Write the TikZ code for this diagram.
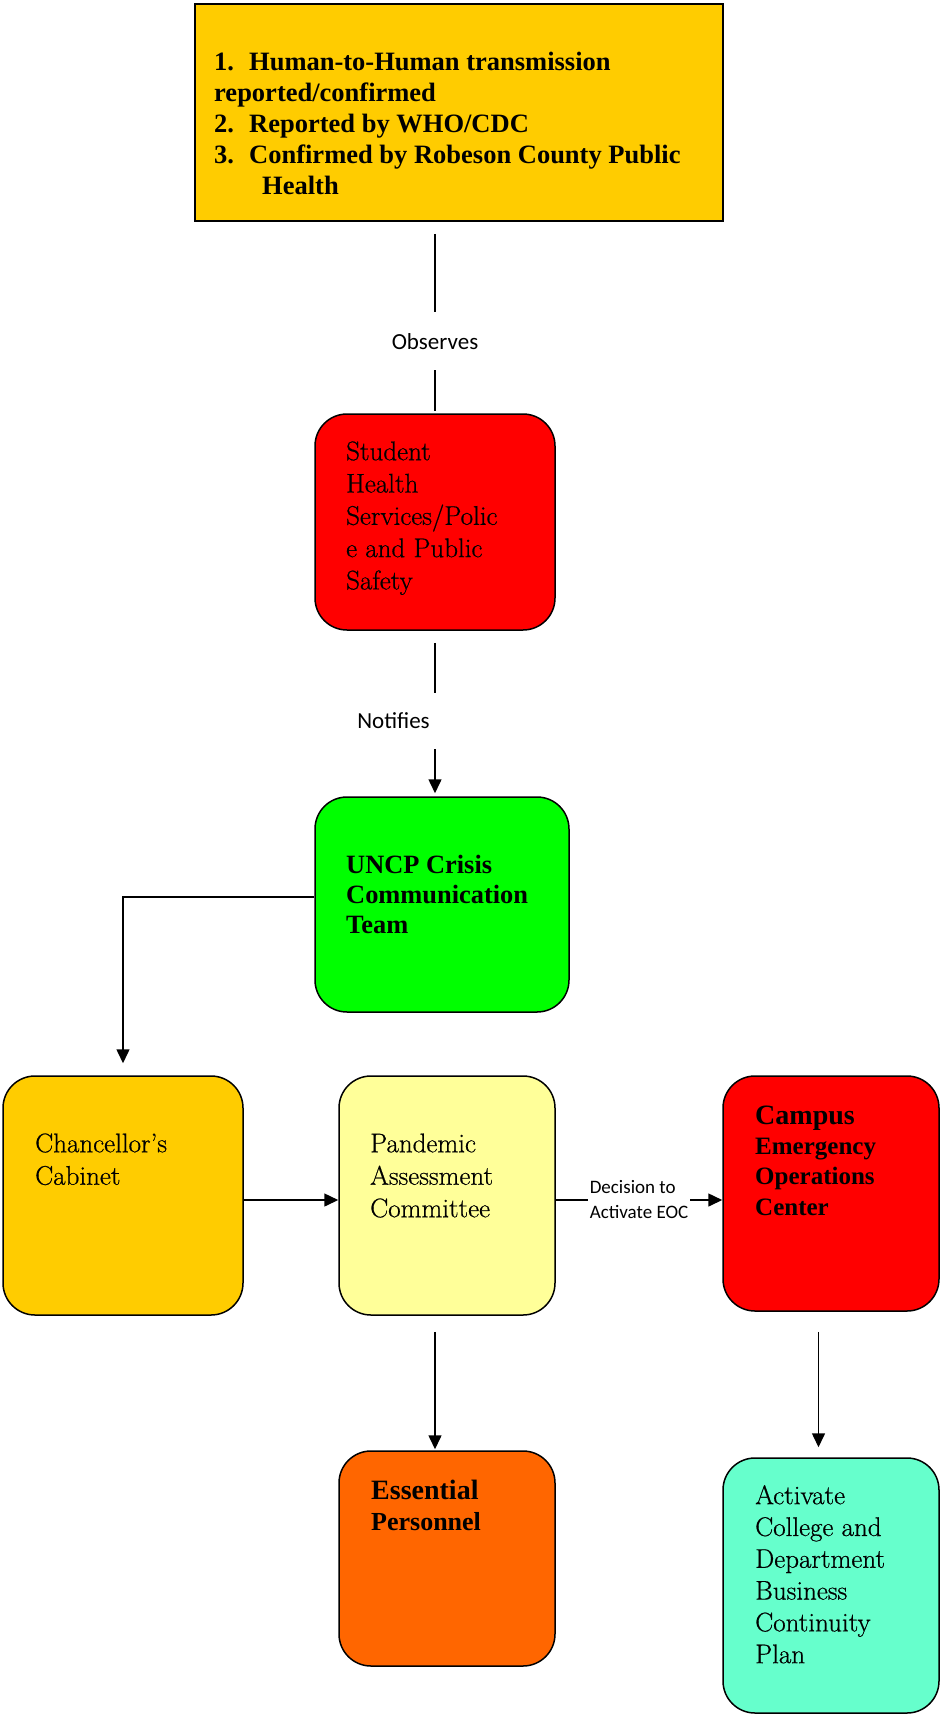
\documentclass[tikz,border=0pt]{standalone}
\usepackage{fontspec}
\usetikzlibrary{arrows.meta,calc}
\newfontfamily\tnr{Liberation Serif}
\newfontfamily\calib{Carlito}
\newfontfamily\pal{Latin Modern Roman}[FakeBold=0.6]
\definecolor{gold}{HTML}{FFCC00}
\definecolor{pureRed}{HTML}{FF0000}
\definecolor{pureGreen}{HTML}{00FF00}
\definecolor{paleYellow}{HTML}{FFFF99}
\definecolor{orangeBox}{HTML}{FF6600}
\definecolor{mint}{HTML}{66FFCC}
\begin{document}
\begin{tikzpicture}[x=1pt,y=-1pt,
  box/.style={draw=black, line width=1.5pt, inner sep=0pt},
  rbox/.style={box, rounded corners=32pt},
  txt/.style={anchor=north west, inner sep=0pt, align=left},
  one/.style={anchor=base west, inner sep=0pt},
  ln/.style={line width=1.5pt},
  arr/.style={ln, -{Triangle[length=14pt,width=13pt]}},
  lbl/.style={font={\calib\fontsize{23}{28}\selectfont}, fill=white},
]
\useasboundingbox (0,0) rectangle (940,1715);

% boxes
\node[box, fill=gold, minimum width=528pt, minimum height=217pt] (top) at (459,112.5) {};
\node[rbox, fill=pureRed, minimum width=240pt, minimum height=216pt] (sh) at (435,522) {};
\node[rbox, fill=pureGreen, minimum width=254pt, minimum height=215pt] (uncp) at (442,904.5) {};
\node[rbox, fill=gold, minimum width=240pt, minimum height=239pt] (chan) at (123,1195.5) {};
\node[rbox, fill=paleYellow, minimum width=216pt, minimum height=239pt] (pan) at (447,1195.5) {};
\node[rbox, fill=pureRed, minimum width=216pt, minimum height=235pt] (eoc) at (831,1193.5) {};
\node[rbox, fill=orangeBox, minimum width=216pt, minimum height=215pt] (ess) at (447,1558.5) {};
\node[rbox, fill=mint, minimum width=216pt, minimum height=255pt] (act) at (831,1585.5) {};

% texts
\node[txt, font={\tnr\bfseries\fontsize{26.5}{31}\selectfont}] (topT) at (214,48.3)
  {\strut\makebox[35pt][l]{1.}Human-to-Human transmission\\
   reported/confirmed\\
   \makebox[35pt][l]{2.}Reported by WHO/CDC\\
   \makebox[35pt][l]{3.}Confirmed by Robeson County Public\\
   \hspace*{48pt}Health};
\node[txt, font={\pal\fontsize{27}{32.3}\selectfont}] (shT) at (346,437.4)
  {\strut Student\\Health\\Services/Polic\\e and Public\\Safety};
\node[txt, font={\tnr\bfseries\fontsize{26.4}{30}\selectfont}] (uncpT) at (346,852)
  {\strut UNCP Crisis\\Communication\\Team};
\node[txt, font={\pal\fontsize{27}{32.5}\selectfont}] (chanT) at (35,1129.3)
  {\strut Chancellor’s\\Cabinet};
\node[txt, font={\pal\fontsize{27}{32.5}\selectfont}] (panT) at (370,1129.3)
  {\strut Pandemic\\Assessment\\Committee};
\node[one, font={\tnr\bfseries\fontsize{28}{32}\selectfont}] (eocA) at (755,1124) {Campus};
\node[txt, font={\tnr\bfseries\fontsize{25}{30.5}\selectfont}] (eocB) at (755,1132.6)
  {\strut Emergency\\Operations\\Center};
\node[one, font={\tnr\bfseries\fontsize{28}{32}\selectfont}] (essA) at (371,1499) {Essential};
\node[one, font={\tnr\bfseries\fontsize{26}{32}\selectfont}] (essB) at (371,1530) {Personnel};
\node[txt, font={\pal\fontsize{27}{31.8}\selectfont}] (actT) at (755,1481.7)
  {\strut Activate\\College and\\Department\\Business\\Continuity\\Plan};

% connectors
\draw[ln, shorten <=12pt, shorten >=2pt] (top.south -| sh.north) --
  node[pos=0.625, lbl, inner sep=0pt, minimum height=58pt] (obs) {Observes} (sh.north);
\draw[arr, shorten <=12pt, shorten >=3pt] (sh.south) --
  node[pos=0.545, lbl, xshift=-41.5pt, inner xsep=7pt, inner ysep=0pt, minimum height=56pt] (notif) {Notifies}
  (uncp.north -| sh.south);
\draw[arr, shorten >=12pt] ([yshift=7.5pt]uncp.west) -| (chan.north);
\draw[arr] ([yshift=-4.5pt]chan.east) -- ([yshift=-4.5pt]chan.east -| pan.west);
\draw[arr] ([yshift=-4.5pt]pan.east) --
  node[midway, fill=white, inner xsep=2pt, inner ysep=1pt, align=left,
       font={\calib\fontsize{19}{25}\selectfont}] (dec) {Decision to\\Activate EOC}
  ([yshift=-4.5pt]pan.east -| eoc.west);
\draw[arr, shorten <=16pt, shorten >=1pt] (pan.south -| sh.south) -- (ess.north -| sh.south);
\draw[arr, shorten <=20pt, shorten >=10pt] ([xshift=-12.5pt]eoc.south) -- ([xshift=-12.5pt]eoc.south |- act.north);
\end{tikzpicture}
\end{document}
